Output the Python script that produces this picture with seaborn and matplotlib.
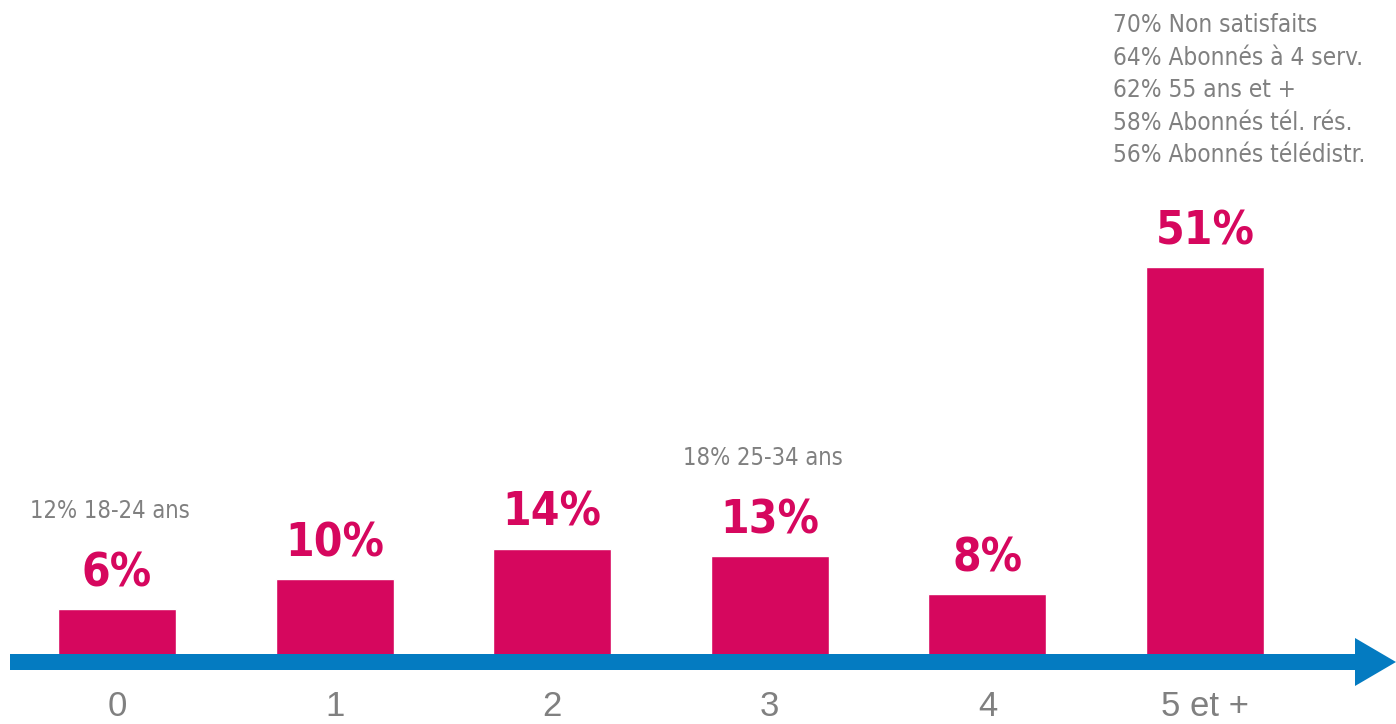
import matplotlib
matplotlib.use("Agg")
import matplotlib.pyplot as plt
from matplotlib.patches import Polygon
import seaborn as sns
import pandas as pd

categories = ["0", "1", "2", "3", "4", "5 et +"]
values = [6, 10, 14, 13, 8, 51]
value_labels = ["6%", "10%", "14%", "13%", "8%", "51%"]
notes = ["12% 18-24 ans", "", "", "18% 25-34 ans", "", ""]
top_notes = ["70% Non satisfaits", "64% Abonnés à 4 serv.", "62% 55 ans et +",
             "58% Abonnés tél. rés.", "56% Abonnés télédistr."]

MAGENTA = "#D6075E"
BLUE = "#047BC1"
GRAY = "#808080"
NARROW = ["DejaVu Sans"]
ARIAL = ["Liberation Sans", "DejaVu Sans"]

sns.set_theme(style="white")
plt.rcParams["font.family"] = NARROW

W, H = 1396, 724
fig = plt.figure(figsize=(W / 100, H / 100), dpi=100)
base_px = 655
ax = fig.add_axes([0, (H - base_px) / H, 1, base_px / H])

df = pd.DataFrame({"cat": categories, "val": values})
sns.barplot(data=df, x="cat", y="val", color=MAGENTA, saturation=1,
            width=0.542, ax=ax, order=categories)

px_per_cat = 217.6
x0 = -117 / px_per_cat
ax.set_xlim(x0, x0 + W / px_per_cat)
ax.set_ylim(0, base_px / 7.6)
for s in ax.spines.values():
    s.set_visible(False)
ax.set_yticks([])
ax.set_xlabel("")
ax.set_ylabel("")
ax.tick_params(axis="x", length=0, pad=25)
ax.set_xticks(range(len(categories)))
ax.set_xticklabels(categories, fontsize=25, color=GRAY, family=ARIAL)

for i, (v, lab, note) in enumerate(zip(values, value_labels, notes)):
    ax.annotate(lab, (i, v), xytext=(0, 16.5), textcoords="offset points",
                ha="center", va="baseline", fontsize=33, fontweight="bold",
                fontstretch="condensed", color=MAGENTA, family=NARROW)
    if note:
        ax.annotate(note, (i, v), xytext=(-5, 66), textcoords="offset points",
                    ha="center", va="baseline", fontsize=17,
                    fontstretch="condensed", color=GRAY, family=NARROW)

ax.annotate("\n".join(top_notes), (5, H - 13), xycoords=("data", "figure pixels"),
            xytext=(-66, 0), textcoords="offset points", ha="left", va="top",
            fontsize=17.5, fontstretch="condensed", color=GRAY, family=NARROW,
            linespacing=1.45)

# blue arrow axis (pixel-based decoration)
def P(x, y):
    return (x / 100, (H - y) / 100)

pts = [P(10, 654), P(1355, 654), P(1355, 638), P(1396, 662), P(1355, 686),
       P(1355, 670), P(10, 670)]
fig.add_artist(Polygon(pts, closed=True, facecolor=BLUE, edgecolor="none",
                       transform=fig.dpi_scale_trans, zorder=5))

fig.savefig("out.png", dpi=100)
